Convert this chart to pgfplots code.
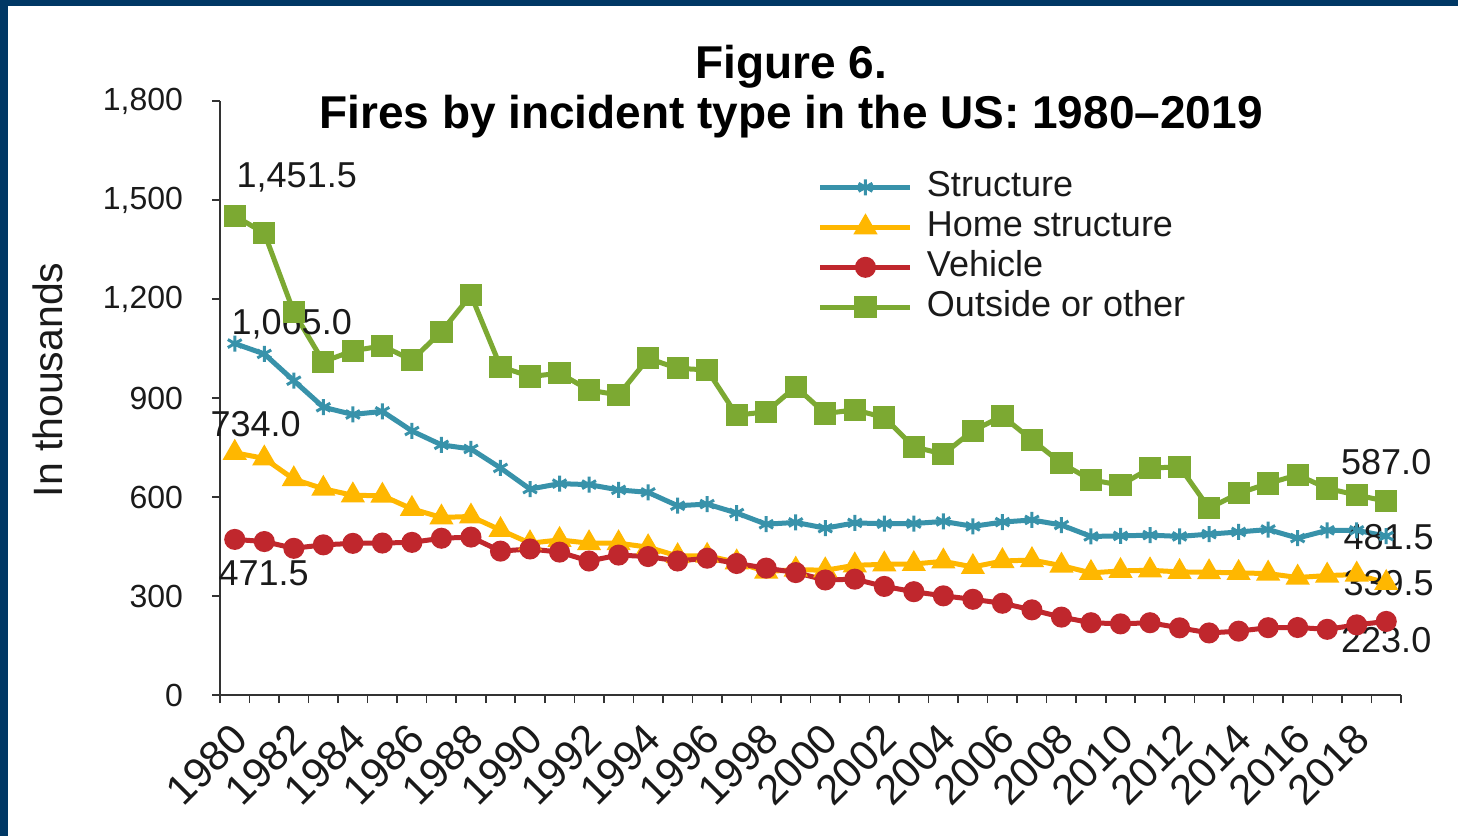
\documentclass[border=0pt]{standalone}
\usepackage{pgfplots}
\pgfplotsset{compat=1.18}
\usepackage{fontspec}
\setmainfont{Liberation Sans}
\definecolor{frameblue}{RGB}{0,56,101}
\definecolor{cstruct}{RGB}{56,146,170}
\definecolor{chome}{RGB}{255,183,0}
\definecolor{cveh}{RGB}{192,39,45}
\definecolor{cout}{RGB}{124,169,50}
\definecolor{txt}{RGB}{26,26,26}

\pgfplotstableread{
year structure home vehicle outside
1980 1065.0 734.0 471.5 1451.5
1981 1033.5 717 465.0 1400
1982 952.5 654 444.5 1160
1983 872.0 625 455.0 1010
1984 850.0 605 459.5 1043
1985 859.5 604 460.5 1058
1986 800.0 564 462.5 1015
1987 758.0 538 475.0 1101
1988 745.5 541 478.5 1212
1989 688.0 500 436.0 995
1990 624.0 460 442.5 965
1991 640.5 470 433.0 975
1992 637.5 460 406.0 924
1993 621.5 460 424.0 909
1994 614.0 448 419.5 1020
1995 573.5 421 406.0 990
1996 578.5 422 414.5 985
1997 551.5 402 398.5 848
1998 517.5 374 384.5 858
1999 523.0 380 371.0 934
2000 505.5 378 348.5 853
2001 521.5 393 351.0 864
2002 519.0 396 329.0 841
2003 519.5 397 313.0 752
2004 526.0 405 300.5 730
2005 511.0 388 290.0 801
2006 524.0 406 278.0 845
2007 530.5 409 258.0 773
2008 515.0 392 236.0 702
2009 480.5 370 219.0 652
2010 482.0 376 215.5 636
2011 484.5 378 219.0 687
2012 480.5 373 203.5 692
2013 487.5 372 188.0 566
2014 494.0 370 193.5 611
2015 501.5 368 204.0 641
2016 475.5 356 204.5 667
2017 499.0 362 199.0 626
2018 499.0 365 212.5 606
2019 481.5 339.5 223.0 587.0
}\firesdata

\begin{document}
\begin{tikzpicture}
\path[use as bounding box] (0,0) rectangle (729pt,418pt);
\fill[white] (0,0) rectangle (729pt,418pt);
\fill[frameblue] (0,0) rectangle (4pt,418pt);
\fill[frameblue] (0,415pt) rectangle (729pt,418pt);
\begin{axis}[
  at={(110pt,70.5pt)}, anchor=south west,
  scale only axis, width=590.5pt, height=297pt,
  xmin=1979.5, xmax=2019.5, ymin=0, ymax=1800,
  clip=false,
  axis x line*=bottom, axis y line*=left,
  axis line style={line width=1pt, -, draw=black!80},
  tick align=outside,
  major tick length=4pt,
  tick style={line width=0.8pt, draw=black!80},
  ytick={0,300,...,1800},
  yticklabel style={font=\fontsize{16}{18}\selectfont, text=txt, xshift=-11pt, /pgf/number format/1000 sep={,}},
  /pgf/number format/assume math mode=true,
  xtick={1979.5,1980.5,...,2019.5},
  xticklabels={},
  extra x ticks={1980,1982,1984,1986,1988,1990,1992,1994,1996,1998,2000,2002,2004,2006,2008,2010,2012,2014,2016,2018},
  extra x tick labels={1980,1982,1984,1986,1988,1990,1992,1994,1996,1998,2000,2002,2004,2006,2008,2010,2012,2014,2016,2018},
  extra x tick style={major tick length=0pt, xticklabel style={font=\fontsize{21}{24}\selectfont, text=txt, shift={(4.9pt,-15.8pt)}, rotate=45, anchor=east}},
  legend style={at={(0.506,0.884)}, anchor=north west, draw=none, fill=none,
    font=\fontsize{18}{20}\selectfont, text=txt, inner sep=0pt,
    nodes={inner sep=0pt, text height=13pt, text depth=4pt},
    row sep=3pt, column sep=7pt},
  legend cell align=left,
  legend image code/.code={\draw[mark repeat=2, mark phase=2] plot coordinates {(0pt,0pt) (22.5pt,0pt) (45pt,0pt)};},
]
\addplot[cstruct, line width=2.5pt, mark=asterisk, mark size=4pt, mark options={line width=1.5pt}] table[x=year, y=structure] {\firesdata};
\addlegendentry{Structure}
\addplot[chome, line width=2.5pt, mark=triangle*, mark size=4.5pt] table[x=year, y=home] {\firesdata};
\addlegendentry{Home structure}
\addplot[cveh, line width=2.5pt, mark=*, mark size=4pt] table[x=year, y=vehicle] {\firesdata};
\addlegendentry{Vehicle}
\addplot[cout, line width=2.5pt, mark=square*, mark size=4.3pt] table[x=year, y=outside] {\firesdata};
\addlegendentry{Outside or other}

\begin{scope}[every node/.style={font=\fontsize{18}{20}\selectfont, text=txt, inner sep=0pt}]
\node at (axis cs:1982.1,1567) {1,451.5};
\node at (axis cs:1981.93,1124) {1,065.0};
\node at (axis cs:1980.71,821) {734.0};
\node at (axis cs:1980.98,370) {471.5};
\node at (axis cs:2019.0,706) {587.0};
\node at (axis cs:2019.08,479) {481.5};
\node at (axis cs:2019.08,339) {339.5};
\node at (axis cs:2019.0,167) {223.0};
\end{scope}
\end{axis}
\node[font=\bfseries\fontsize{23}{26}\selectfont, text=black] at (395.5pt,384.5pt) {Figure 6.};
\node[font=\bfseries\fontsize{23}{26}\selectfont, text=black] at (395.5pt,359.5pt) {Fires by incident type in the US: 1980–2019};
\node[rotate=90, font=\fontsize{20.5}{23}\selectfont, text=txt] at (24pt,228pt) {In thousands};
\end{tikzpicture}
\end{document}
